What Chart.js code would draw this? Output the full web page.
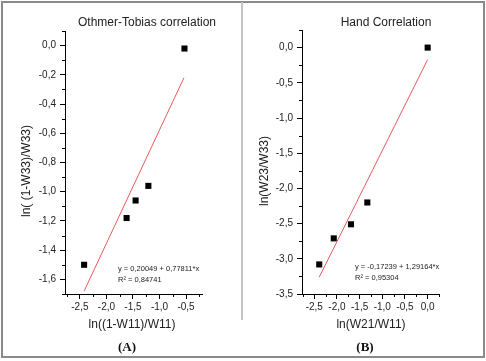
<!DOCTYPE html>
<html>
<head>
<meta charset="utf-8">
<script src="https://cdn.jsdelivr.net/npm/chart.js@4/dist/chart.umd.min.js"></script>
<style>
  body { margin: 0; background: #fff; }
  #wrap { position: relative; width: 486px; height: 361px; overflow: hidden; }
  #frame { position: absolute; left: 1px; top: 1px; width: 484px; height: 357px; border: 2px solid #8a8a8a; box-sizing: border-box; }
  #divider { position: absolute; left: 241px; top: 2px; width: 2px; height: 318px; background: #c4c4c4; }
  canvas { position: absolute; top: 0; }
  #left { left: 0; }
  #right { left: 243px; }
</style>
</head>
<body>
<div id="wrap">
  <div id="frame"></div>
  <div id="divider"></div>
  <canvas id="left" width="243" height="361"></canvas>
  <canvas id="right" width="243" height="361"></canvas>
</div>
<script>
// (A) Othmer-Tobias
const otX = [-2.42, -1.62, -1.45, -1.21, -0.53];
const otY = [-1.50, -1.18, -1.06, -0.96, -0.02];
const otFitX = [-2.42, -0.54];
const otFitY = [-1.68, -0.22];
const otXTicks = [-2.5, -2.0, -1.5, -1.0, -0.5];
const otYTicks = [-1.6, -1.4, -1.2, -1.0, -0.8, -0.6, -0.4, -0.2, 0.0];

// (B) Hand
const hX = [-2.39, -2.07, -1.69, -1.33, 0.0];
const hY = [-3.08, -2.71, -2.51, -2.20, 0.0];
const hFitX = [-2.39, 0.0];
const hFitY = [-3.26, -0.17];
const hXTicks = [-2.5, -2.0, -1.5, -1.0, -0.5, 0.0];
const hYTicks = [-3.5, -3.0, -2.5, -2.0, -1.5, -1.0, -0.5, 0.0];

const FONT = 'Liberation Sans, Arial, sans-serif';

function fmt(v) {
  return Number(v).toFixed(1).replace('.', ',');
}

function pts(xs, ys) {
  return xs.map((x, i) => ({ x: x, y: ys[i] }));
}

function axis(pos, min, max, ticks, size) {
  return {
    type: 'linear', position: pos, min: min, max: max,
    afterBuildTicks: s => { s.ticks = ticks.map(v => ({ value: v })); },
    afterFit: s => { if (pos === 'left') s.width = size; else s.height = size; },
    grid: { drawOnChartArea: false, drawTicks: true, tickLength: 5, tickColor: '#000', tickWidth: 1 },
    border: { display: true, color: '#000', width: 1 },
    ticks: {
      color: '#222', font: { family: FONT, size: 10 }, padding: pos === 'left' ? 4 : 2,
      maxRotation: 0, autoSkip: false, callback: v => fmt(v)
    }
  };
}

// minor ticks half way between the major ones
function minorTicks(chart) {
  const ctx = chart.ctx;
  ctx.save();
  ctx.strokeStyle = '#000';
  ctx.lineWidth = 1;
  ['x', 'y'].forEach(id => {
    const s = chart.scales[id];
    const vals = s.ticks.map(t => t.value);
    const step = vals[1] - vals[0];
    let v = vals[0] - step / 2;
    while (v <= s.max + 1e-9) {
      if (v >= s.min - 1e-9) {
        const p = Math.round(s.getPixelForValue(v)) + 0.5;
        ctx.beginPath();
        if (id === 'x') {
          ctx.moveTo(p, chart.chartArea.bottom);
          ctx.lineTo(p, chart.chartArea.bottom + 3);
        } else {
          ctx.moveTo(chart.chartArea.left, p);
          ctx.lineTo(chart.chartArea.left - 3, p);
        }
        ctx.stroke();
      }
      v += step;
    }
  });
  ctx.restore();
}

function makeChart(id, d) {
  new Chart(document.getElementById(id), {
    type: 'scatter',
    data: {
      datasets: [
        {
          data: pts(d.fitX, d.fitY), showLine: true, pointRadius: 0,
          borderColor: '#ea5a5a', borderWidth: 1, fill: false
        },
        {
          data: pts(d.x, d.y), pointStyle: 'rect', pointRadius: 4.3,
          backgroundColor: '#000', borderColor: '#000', borderWidth: 0
        }
      ]
    },
    options: {
      responsive: false, animation: false, devicePixelRatio: 1,
      layout: { padding: { left: 0, top: d.top, right: d.right, bottom: 45 } },
      plugins: { legend: { display: false }, tooltip: { enabled: false } },
      scales: {
        x: axis('bottom', d.xMin, d.xMax, d.xTicks, 22),
        y: axis('left', d.yMin, d.yMax, d.yTicks, d.yWidth)
      }
    },
    plugins: [{
      id: 'notes',
      afterDraw(chart) {
        minorTicks(chart);
        const ctx = chart.ctx;
        ctx.save();
        ctx.fillStyle = '#222';
        ctx.textBaseline = 'middle';
        ctx.textAlign = 'center';
        ctx.font = '12px ' + FONT;
        ctx.fillText(d.title, d.titleX, 23);
        ctx.fillText(d.xTitle, d.xTitleX, 325);
        ctx.save();
        ctx.translate(d.yTitleX, 171);
        ctx.rotate(-Math.PI / 2);
        ctx.fillText(d.yTitle, 0, 0);
        ctx.restore();
        ctx.font = 'bold 13px Liberation Serif, Times New Roman, serif';
        ctx.fillStyle = '#111';
        ctx.fillText(d.tag, d.tagX, 348);
        ctx.textAlign = 'left';
        ctx.font = '7.5px ' + FONT;
        ctx.fillStyle = '#222';
        ctx.fillText(d.eq, d.eqX, d.eqY);
        ctx.fillText(d.r2, d.eqX, d.eqY + 11);
        ctx.restore();
      }
    }]
  });
}

makeChart('left', {
  x: otX, y: otY, fitX: otFitX, fitY: otFitY, xTicks: otXTicks, yTicks: otYTicks,
  xMin: -2.78, xMax: -0.2, yMin: -1.7, yMax: 0.1,
  top: 31, right: 41, yWidth: 65,
  title: 'Othmer-Tobias correlation', titleX: 147,
  xTitle: 'ln((1-W11)/W11)', xTitleX: 132,
  yTitle: 'ln( (1-W33)/W33)', yTitleX: 27,
  tag: '(A)', tagX: 127,
  eq: 'y = 0,20049 + 0,77811*x', r2: 'R\u00b2 = 0,84741', eqX: 118, eqY: 269
});

makeChart('right', {
  x: hX, y: hY, fitX: hFitX, fitY: hFitY, xTicks: hXTicks, yTicks: hYTicks,
  xMin: -2.77, xMax: 0.25, yMin: -3.5, yMax: 0.25,
  top: 30, right: 47, yWidth: 59,
  title: 'Hand Correlation', titleX: 143,
  xTitle: 'ln(W21/W11)', xTitleX: 128,
  yTitle: 'ln(W23/W33)', yTitleX: 22,
  tag: '(B)', tagX: 122,
  eq: 'y = -0,17239 + 1,29164*x', r2: 'R\u00b2 = 0,95304', eqX: 112, eqY: 267
});
</script>
</body>
</html>
